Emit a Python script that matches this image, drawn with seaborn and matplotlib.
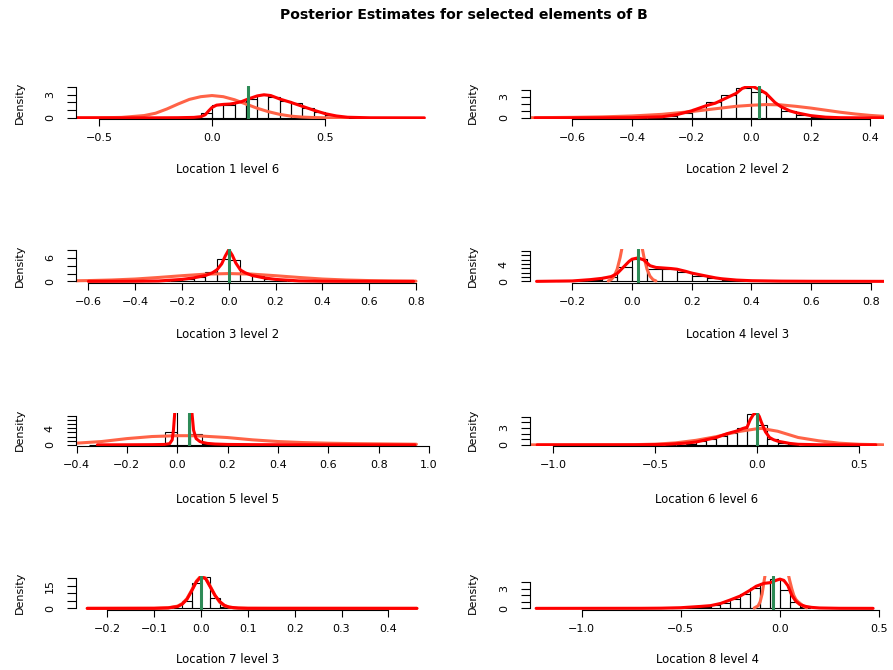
import numpy as np
import matplotlib
matplotlib.use("Agg")
import matplotlib.pyplot as plt
import seaborn as sns

# ---------------- data ----------------
title = "Posterior Estimates for selected elements of B"
panel_labels = ["Location 1 level 6", "Location 2 level 2", "Location 3 level 2", "Location 4 level 3",
                "Location 5 level 5", "Location 6 level 6", "Location 7 level 3", "Location 8 level 4"]

# Panel 1
p1_bins = [-0.10, -0.05, 0.00, 0.05, 0.10, 0.15, 0.20, 0.25, 0.30, 0.35, 0.40, 0.45, 0.50, 0.55, 0.60, 0.65, 0.70]
p1_dens = [0.05, 0.64, 1.7, 1.7, 2.0, 2.5, 3.0, 2.7, 2.2, 1.9, 1.3, 0.8, 0.4, 0.15, 0.05, 0.02]
p1_post_x = [-0.60, -0.30, -0.15, -0.08, -0.05, -0.03, -0.015, 0.0, 0.02, 0.05, 0.08, 0.10, 0.13, 0.16, 0.20, 0.23, 0.26,
             0.30, 0.35, 0.40, 0.45, 0.50, 0.55, 0.60, 0.70, 0.94]
p1_post_y = [0.0, 0.0, 0.02, 0.06, 0.15, 0.4, 0.9, 1.35, 1.65, 1.75, 1.8, 1.9, 2.1, 2.45, 2.85, 3.0, 2.9,
             2.45, 2.0, 1.5, 1.0, 0.55, 0.25, 0.08, 0.01, 0.0]
p1_prior_x = [-0.60, -0.5, -0.4, -0.3, -0.25, -0.2, -0.15, -0.1, -0.05, 0.0, 0.05, 0.1, 0.15, 0.2, 0.25, 0.3, 0.35, 0.4,
              0.45, 0.5, 0.6]
p1_prior_y = [0.0, 0.01, 0.06, 0.3, 0.6, 1.15, 1.8, 2.4, 2.75, 2.9, 2.75, 2.35, 1.8, 1.25, 0.8, 0.45, 0.22, 0.1,
              0.04, 0.01, 0.0]
p1_true = 0.161

# Panel 2
p2_bins = [-0.40, -0.35, -0.30, -0.25, -0.20, -0.15, -0.10, -0.05, 0.00, 0.05, 0.10, 0.15, 0.20, 0.25, 0.30]
p2_dens = [0.02, 0.05, 0.2, 0.75, 1.25, 2.2, 3.3, 4.3, 3.7, 2.05, 1.0, 0.4, 0.12, 0.03]
p2_post_x = [-0.725, -0.5, -0.4, -0.3, -0.25, -0.2, -0.15, -0.12, -0.1, -0.07, -0.05, -0.03, -0.01, 0.01, 0.03, 0.05,
             0.08, 0.1, 0.13, 0.15, 0.2, 0.25, 0.3, 0.35, 0.446]
p2_post_y = [0.0, 0.01, 0.03, 0.15, 0.45, 1.0, 1.75, 2.1, 2.5, 3.1, 3.5, 4.2, 4.5, 4.4, 4.0, 3.5,
             2.2, 1.6, 1.0, 0.75, 0.32, 0.1, 0.02, 0.01, 0.0]
p2_prior_x = [-0.742, -0.6, -0.5, -0.4, -0.3, -0.2, -0.15, -0.1, -0.05, 0.0, 0.05, 0.1, 0.15, 0.2, 0.25, 0.3, 0.35,
              0.4, 0.446]
p2_prior_y = [0.02, 0.07, 0.14, 0.27, 0.5, 0.9, 1.15, 1.4, 1.65, 1.8, 1.9, 1.85, 1.65, 1.4, 1.1, 0.8, 0.55,
              0.35, 0.22]
p2_true = 0.025

# Panel 3
p3_bins = [-0.35, -0.30, -0.25, -0.20, -0.15, -0.10, -0.05, 0.00, 0.05, 0.10, 0.15, 0.20, 0.25, 0.30, 0.35]
p3_dens = [0.03, 0.08, 0.2, 0.6, 1.2, 2.3, 5.7, 5.6, 2.05, 1.3, 0.7, 0.2, 0.08, 0.03]
p3_post_x = [-0.6, -0.4, -0.3, -0.2, -0.15, -0.1, -0.07, -0.05, -0.03, -0.015, 0.0, 0.015, 0.03, 0.05, 0.07, 0.1,
             0.15, 0.2, 0.3, 0.4, 0.5, 0.79]
p3_post_y = [0.0, 0.03, 0.1, 0.5, 0.9, 1.5, 2.2, 3.0, 4.5, 6.5, 8.1, 6.7, 4.7, 2.9, 2.2, 1.5,
             0.9, 0.5, 0.12, 0.03, 0.01, 0.0]
p3_prior_x = [-0.653, -0.6, -0.5, -0.4, -0.3, -0.2, -0.1, 0.0, 0.1, 0.2, 0.3, 0.4, 0.5, 0.6, 0.7, 0.8]
p3_prior_y = [0.15, 0.2, 0.35, 0.6, 1.0, 1.45, 1.85, 2.0, 1.85, 1.45, 1.0, 0.6, 0.35, 0.2, 0.1, 0.05]
p3_true = 0.0

# Panel 4
p4_bins = [-0.25, -0.20, -0.15, -0.10, -0.05, 0.00, 0.05, 0.10, 0.15, 0.20, 0.25, 0.30, 0.35, 0.40, 0.45, 0.50]
p4_dens = [0.03, 0.1, 0.3, 0.9, 3.3, 5.2, 2.8, 2.8, 2.15, 1.2, 0.7, 0.4, 0.2, 0.1, 0.04]
p4_post_x = [-0.32, -0.2, -0.14, -0.1, -0.07, -0.05, -0.03, -0.01, 0.0, 0.02, 0.04, 0.06, 0.08, 0.1, 0.13, 0.15,
             0.18, 0.2, 0.25, 0.28, 0.3, 0.35, 0.4, 0.5, 0.6, 0.844]
p4_post_y = [0.0, 0.1, 0.4, 0.7, 1.1, 1.8, 3.2, 4.6, 5.1, 5.4, 4.9, 3.6, 3.2, 3.1, 2.95, 2.8,
             2.3, 1.9, 1.2, 0.8, 0.6, 0.3, 0.15, 0.05, 0.02, 0.0]
p4_prior_x = [-0.08, -0.07, -0.06, -0.05, -0.04, -0.03, -0.02, -0.01, 0.0, 0.01, 0.02, 0.03, 0.04, 0.05, 0.06, 0.07,
              0.08]
p4_prior_y = [0.1, 0.4, 1.2, 2.8, 5.5, 9.0, 12.5, 14.8, 15.5, 14.8, 12.5, 9.0, 5.5, 2.8, 1.2, 0.4, 0.1]
p4_true = 0.021

# Panel 5
p5_bins = [-0.35, -0.30, -0.25, -0.20, -0.15, -0.10, -0.05, 0.00, 0.05, 0.10, 0.15, 0.20, 0.25, 0.30, 0.35,
           0.40, 0.45, 0.50, 0.55, 0.60, 0.65, 0.70, 0.75, 0.80, 0.85, 0.90, 0.95]
p5_dens = [0.08, 0.02, 0.02, 0.02, 0.03, 0.05, 3.0, 13.5, 2.65, 0.3, 0.1, 0.05, 0.03, 0.02,
           0.02, 0.02, 0.02, 0.02, 0.02, 0.02, 0.02, 0.02, 0.02, 0.02, 0.02, 0.05]
p5_post_x = [-0.317, -0.2, -0.1, -0.05, -0.03, -0.02, -0.015, -0.01, 0.0, 0.01, 0.03, 0.05, 0.058, 0.065, 0.075, 0.09,
             0.1, 0.12, 0.15, 0.2, 0.3, 0.5, 0.944]
p5_post_y = [0.0, 0.02, 0.05, 0.1, 0.3, 1.2, 3.5, 7.5, 14.0, 18.0, 25.0, 15.0, 8.0, 3.5, 1.5, 0.8,
             0.6, 0.35, 0.2, 0.1, 0.05, 0.02, 0.0]
p5_prior_x = [-0.402, -0.3, -0.2, -0.1, 0.0, 0.05, 0.1, 0.2, 0.3, 0.4, 0.5, 0.6, 0.7, 0.8, 0.9, 0.95]
p5_prior_y = [0.4, 0.8, 1.5, 2.0, 2.2, 2.2, 2.1, 1.75, 1.2, 0.8, 0.55, 0.4, 0.3, 0.24, 0.18, 0.15]
p5_true = 0.046

# Panel 6
p6_bins = [-0.45, -0.40, -0.35, -0.30, -0.25, -0.20, -0.15, -0.10, -0.05, 0.00, 0.05, 0.10, 0.15, 0.20]
p6_dens = [0.03, 0.05, 0.1, 0.6, 1.05, 1.65, 2.05, 2.95, 5.5, 3.5, 1.0, 0.3, 0.1]
p6_post_x = [-1.077, -0.6, -0.45, -0.35, -0.3, -0.25, -0.2, -0.15, -0.1, -0.07, -0.05, -0.035, -0.02, -0.01, 0.0,
             0.01, 0.02, 0.04, 0.06, 0.08, 0.1, 0.13, 0.16, 0.2, 0.3, 0.58]
p6_post_y = [0.0, 0.01, 0.08, 0.3, 0.5, 0.9, 1.3, 1.95, 2.45, 2.9, 3.1, 4.4, 5.3, 5.6, 5.6,
             5.0, 4.0, 2.3, 1.3, 0.9, 0.65, 0.45, 0.25, 0.1, 0.02, 0.0]
p6_prior_x = [-1.112, -0.7, -0.6, -0.5, -0.4, -0.3, -0.2, -0.1, 0.0, 0.02, 0.1, 0.2, 0.3, 0.4, 0.5, 0.6, 0.62]
p6_prior_y = [0.0, 0.01, 0.04, 0.12, 0.35, 0.8, 1.45, 2.3, 2.85, 2.9, 2.4, 1.3, 0.72, 0.3, 0.1, 0.02, 0.0]
p6_true = 0.0

# Panel 7
p7_bins = [-0.08, -0.06, -0.04, -0.02, 0.00, 0.02, 0.04, 0.06, 0.08]
p7_dens = [0.05, 0.3, 4.6, 16.8, 20.7, 7.1, 0.9, 0.2]
p7_post_x = [-0.243, -0.1, -0.07, -0.05, -0.04, -0.03, -0.02, -0.01, 0.0, 0.01, 0.02, 0.03, 0.04, 0.05, 0.06, 0.08,
             0.1, 0.15, 0.461]
p7_post_y = [0.0, 0.05, 0.3, 1.2, 2.8, 6.0, 11.5, 17.5, 21.0, 19.5, 14.0, 8.5, 4.5, 2.0, 0.8, 0.2,
             0.05, 0.01, 0.0]
p7_prior_x = [-0.243, -0.1, -0.07, -0.05, -0.04, -0.03, -0.02, -0.01, 0.0, 0.01, 0.02, 0.03, 0.04, 0.05, 0.07, 0.1,
              0.461]
p7_prior_y = [0.0, 0.05, 0.4, 1.5, 3.2, 6.5, 12.0, 18.0, 21.5, 20.0, 14.5, 8.5, 4.0, 1.6, 0.3, 0.05, 0.0]
p7_true = 0.0

# Panel 8
p8_bins = [-0.55, -0.50, -0.45, -0.40, -0.35, -0.30, -0.25, -0.20, -0.15, -0.10, -0.05, 0.00, 0.05, 0.10, 0.15]
p8_dens = [0.04, 0.08, 0.15, 0.25, 0.45, 0.8, 1.5, 2.2, 3.2, 3.9, 4.5, 2.9, 1.0, 0.25]
p8_post_x = [-1.23, -0.7, -0.6, -0.5, -0.45, -0.4, -0.35, -0.3, -0.25, -0.2, -0.15, -0.12, -0.08, -0.05, -0.02, 0.0,
             0.02, 0.04, 0.06, 0.08, 0.1, 0.13, 0.16, 0.2, 0.3, 0.47]
p8_post_y = [0.0, 0.01, 0.03, 0.1, 0.2, 0.3, 0.42, 0.75, 1.3, 1.9, 2.8, 3.4, 3.85, 3.95, 4.3, 4.5,
             4.3, 3.5, 2.0, 1.1, 0.6, 0.3, 0.15, 0.06, 0.01, 0.0]
p8_prior_x = [-0.13, -0.11, -0.1, -0.09, -0.08, -0.07, -0.05, -0.02, 0.0, 0.02, 0.04, 0.05, 0.06, 0.07, 0.08, 0.09,
              0.1, 0.12, 0.135]
p8_prior_y = [0.05, 0.4, 1.0, 2.2, 4.2, 6.0, 8.5, 10.0, 9.8, 8.5, 5.5, 4.2, 3.0, 2.0, 1.4, 1.05,
              0.8, 0.3, 0.08]
p8_true = -0.037

# axis ticks / labels
xticks = [[-0.5, 0.0, 0.5],
          [-0.6, -0.4, -0.2, 0.0, 0.2, 0.4],
          [-0.6, -0.4, -0.2, 0.0, 0.2, 0.4, 0.6, 0.8],
          [-0.2, 0.0, 0.2, 0.4, 0.6, 0.8],
          [-0.4, -0.2, 0.0, 0.2, 0.4, 0.6, 0.8, 1.0],
          [-1.0, -0.5, 0.0, 0.5],
          [-0.2, -0.1, 0.0, 0.1, 0.2, 0.3, 0.4],
          [-1.0, -0.5, 0.0, 0.5]]
yticks = [[0, 1, 2, 3, 4], [0, 1, 2, 3, 4], [0, 2, 4, 6, 8], [0, 1, 2, 3, 4, 5, 6, 7],
          [0, 1, 2, 3, 4, 5, 6, 7], [0, 1, 2, 3, 4, 5], [0, 5, 10, 15, 20], [0, 1, 2, 3, 4]]
ytick_labels = [["0", "", "", "3", ""], ["0", "", "", "3", ""], ["0", "", "", "6", ""],
                ["0", "", "", "", "4", "", "", ""], ["0", "", "", "", "4", "", "", ""],
                ["0", "", "", "3", "", ""], ["0", "", "", "15", ""], ["0", "", "", "3", ""]]
xlims = [(-0.602, 0.965), (-0.742, 0.446), (-0.653, 0.860), (-0.342, 0.844),
         (-0.402, 1.004), (-1.112, 0.620), (-0.267, 0.489), (-1.261, 0.525)]
ymaxs = [4.03, 4.43, 7.95, 7.13, 7.44, 5.47, 20.5, 4.77]

panels = [
    (p1_bins, p1_dens, p1_post_x, p1_post_y, p1_prior_x, p1_prior_y, p1_true),
    (p2_bins, p2_dens, p2_post_x, p2_post_y, p2_prior_x, p2_prior_y, p2_true),
    (p3_bins, p3_dens, p3_post_x, p3_post_y, p3_prior_x, p3_prior_y, p3_true),
    (p4_bins, p4_dens, p4_post_x, p4_post_y, p4_prior_x, p4_prior_y, p4_true),
    (p5_bins, p5_dens, p5_post_x, p5_post_y, p5_prior_x, p5_prior_y, p5_true),
    (p6_bins, p6_dens, p6_post_x, p6_post_y, p6_prior_x, p6_prior_y, p6_true),
    (p7_bins, p7_dens, p7_post_x, p7_post_y, p7_prior_x, p7_prior_y, p7_true),
    (p8_bins, p8_dens, p8_post_x, p8_post_y, p8_prior_x, p8_prior_y, p8_true),
]

# ---------------- styling / layout ----------------
sns.set_theme(style="white", rc={"axes.edgecolor": "black", "text.color": "black",
                                 "xtick.color": "black", "ytick.color": "black",
                                 "axes.labelcolor": "black"})
plt.rcParams["font.family"] = ["DejaVu Sans"]

W, H = 893, 670
fig = plt.figure(figsize=(W / 100, H / 100), dpi=100)
fig.patch.set_facecolor("white")

col_left = [76, 530]
ax_w = 354
ax_h = 33.5
row_top0 = 85.6
row_step = 163.5
xlabel_pos = [(228, 169.3), (738, 169.3), (228, 335), (738, 335),
              (228, 499.3), (707, 499.3), (228, 659.3), (707, 659.3)]
density_x = [20, 473]

PRIOR_C = "#FF6347"
POST_C = "#FF0000"
TRUE_C = "#2E8B57"

for i, (bins, dens, px, py, qx, qy, tv) in enumerate(panels):
    col, row = i % 2, i // 2
    top = row_top0 + row_step * row
    ax = fig.add_axes([col_left[col] / W, 1 - (top + ax_h) / H, ax_w / W, ax_h / H])
    ax.set_facecolor("none")

    centers = [(a + b) / 2 for a, b in zip(bins[:-1], bins[1:])]
    sns.histplot(x=centers, weights=list(dens), bins=list(bins), stat="count", fill=False,
                 color="black", linewidth=0.8, ax=ax)
    sns.lineplot(x=qx, y=qy, color=PRIOR_C, linewidth=2.2, estimator=None, sort=False, ax=ax)
    sns.lineplot(x=px, y=py, color=POST_C, linewidth=2.2, estimator=None, sort=False, ax=ax)
    ax.axvline(tv, color=TRUE_C, linewidth=2.2)

    ymax = ymaxs[i]
    ax.set_xlim(*xlims[i])
    ax.set_ylim(-0.04 * ymax, 1.04 * ymax)
    ax.set_xlabel("")
    ax.set_ylabel("")

    xt = xticks[i]
    ax.set_xticks(xt)
    ax.set_xticklabels([f"{v:.1f}".replace("-", "\u2212") for v in xt])
    ax.set_yticks(yticks[i])
    ax.set_yticklabels(ytick_labels[i], rotation=90, va="center")

    ax.tick_params(axis="x", bottom=True, length=4.8, width=0.8, pad=5.5, labelsize=8, direction="out")
    ax.tick_params(axis="y", left=True, length=6.3, width=0.8, pad=9, labelsize=8, direction="out")
    for s in ["top", "right"]:
        ax.spines[s].set_visible(False)
    ax.spines["left"].set_bounds(yticks[i][0], yticks[i][-1])
    ax.spines["bottom"].set_bounds(xt[0], xt[-1])
    for s in ["left", "bottom"]:
        ax.spines[s].set_linewidth(0.8)
        ax.spines[s].set_color("black")

    lx, ly = xlabel_pos[i]
    fig.text(lx / W, 1 - ly / H, panel_labels[i], ha="center", va="center", fontsize=8.4)
    fig.text(density_x[col] / W, 1 - (top + ax_h / 2) / H, "Density", rotation=90,
             ha="center", va="center", fontsize=8)

fig.text(464 / W, 1 - 15 / H, title, ha="center", va="center", fontsize=10.1, fontweight="bold")

fig.savefig("out.png", dpi=100, facecolor="white")
